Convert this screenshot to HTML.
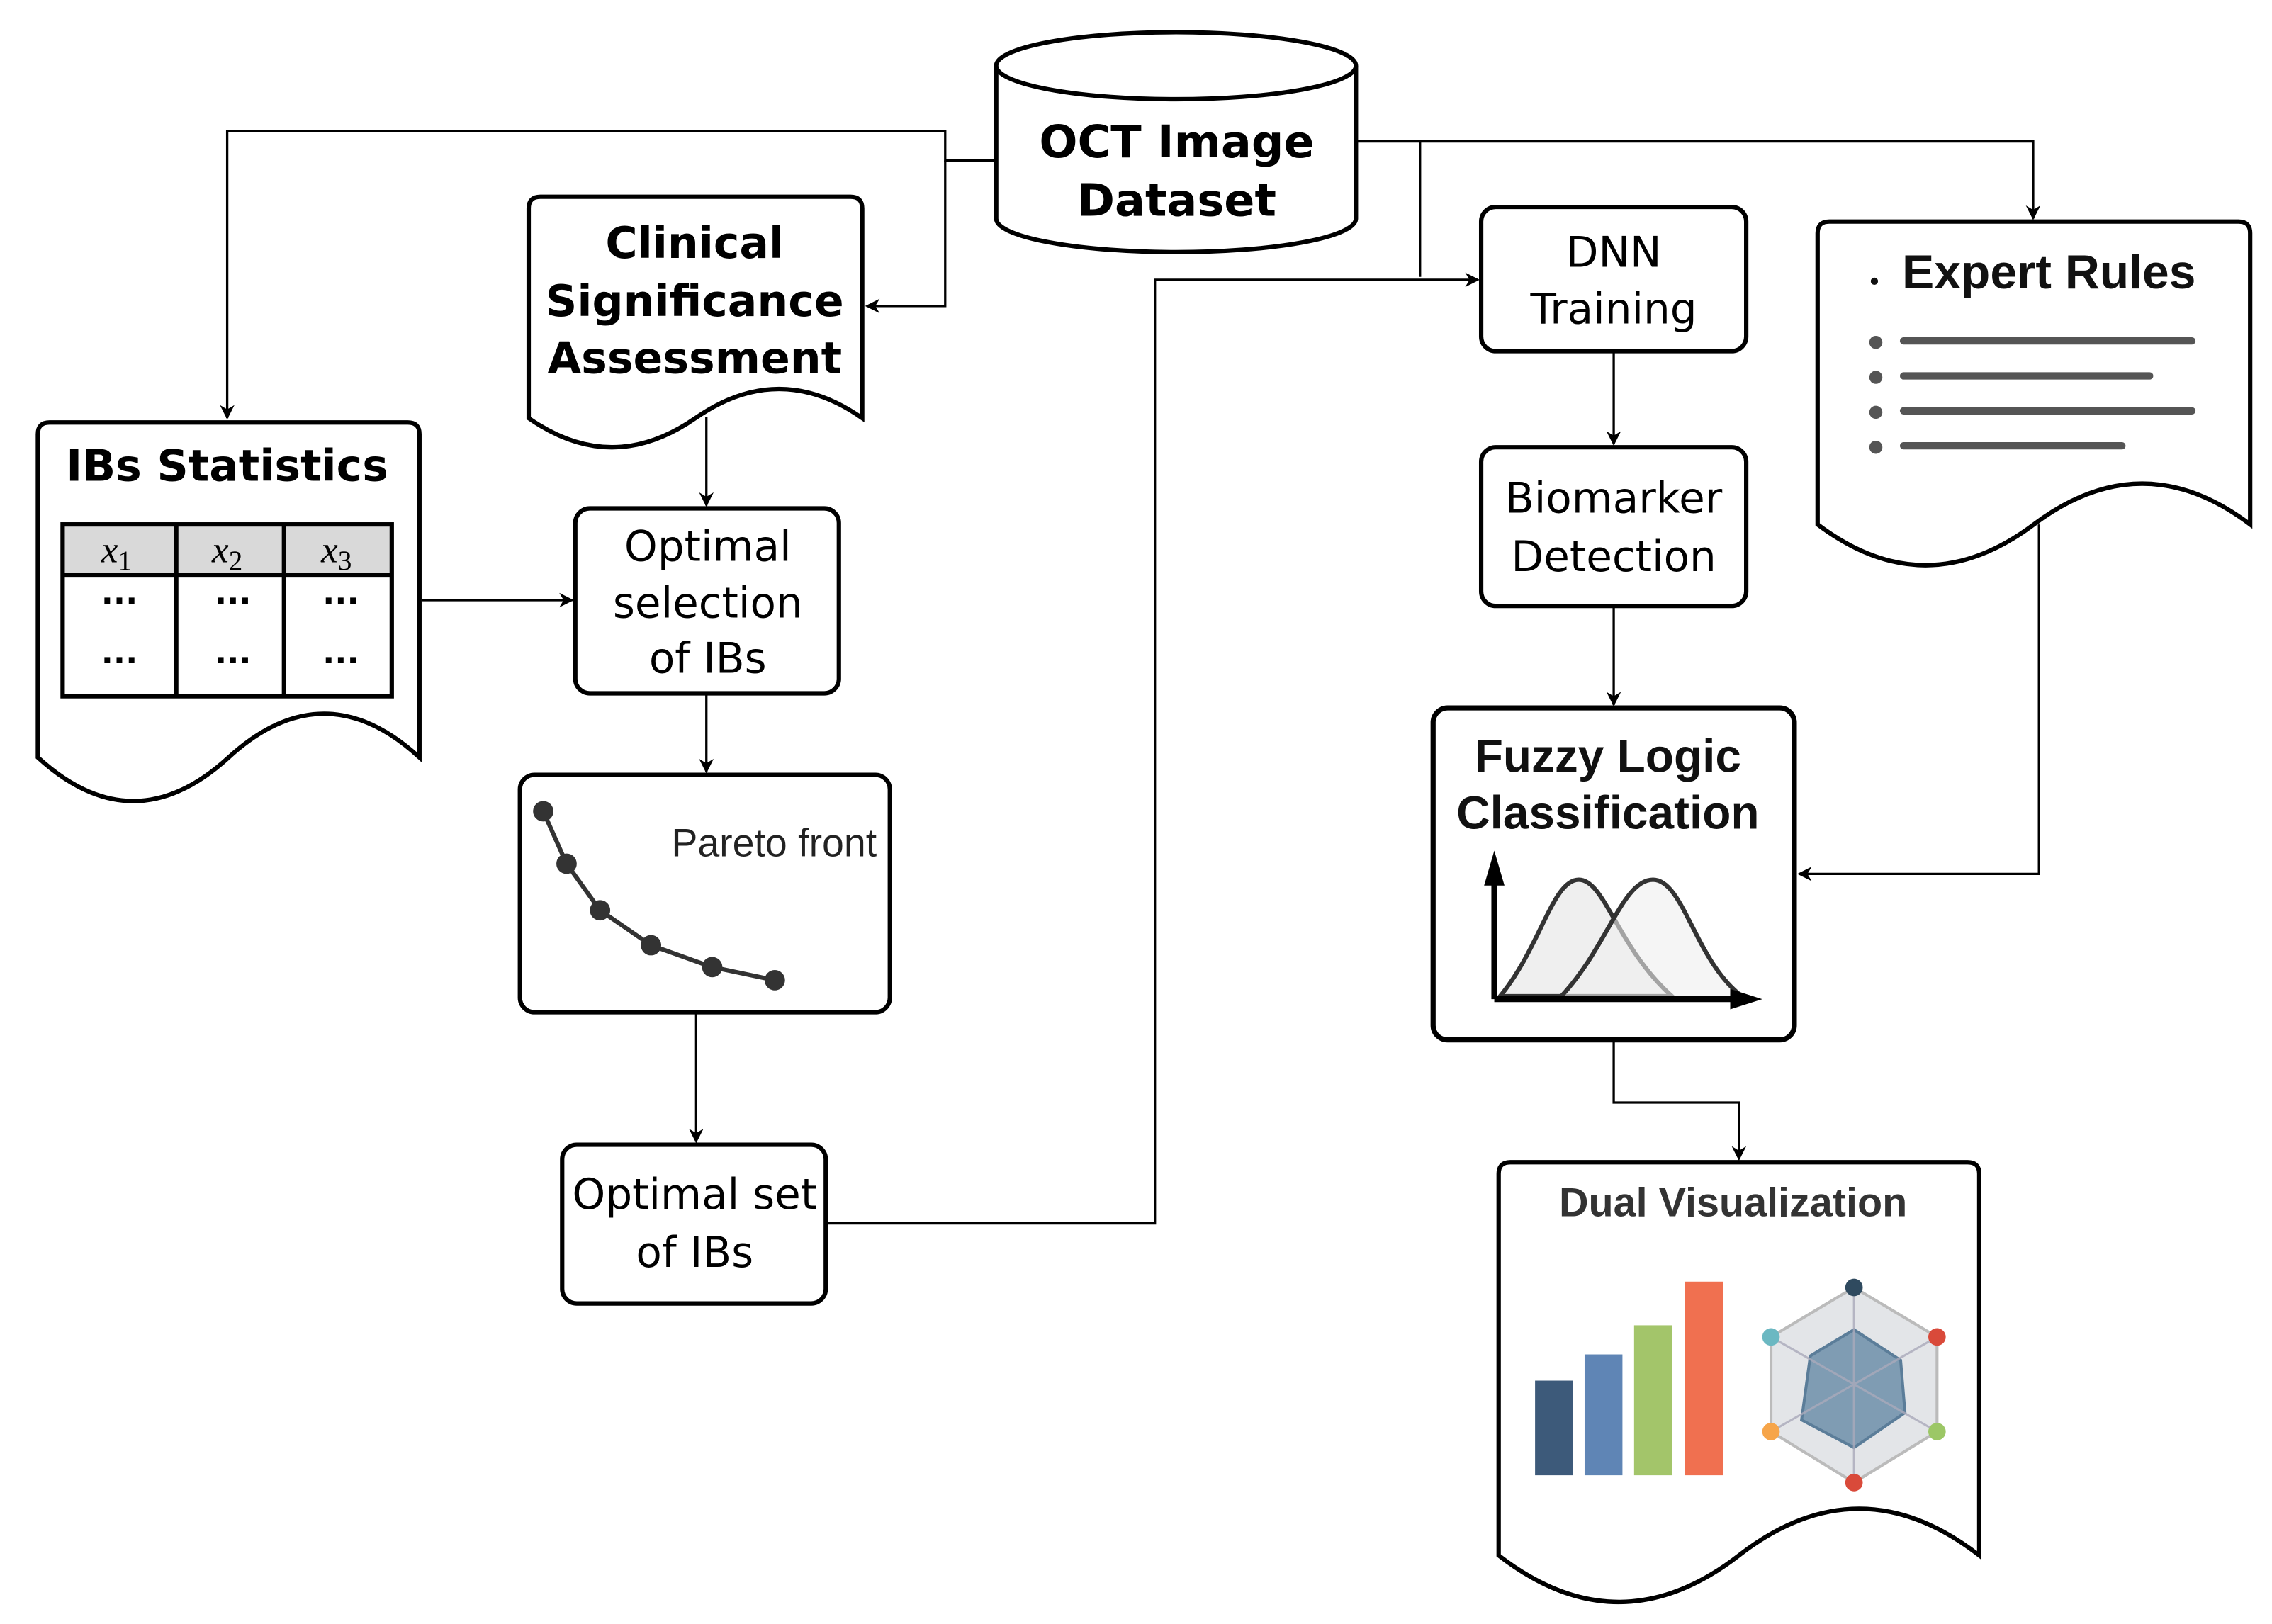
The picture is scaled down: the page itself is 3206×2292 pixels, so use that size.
<!DOCTYPE html>
<html><head><meta charset="utf-8"><style>html,body{margin:0;padding:0;background:#fff}svg{display:block}</style></head>
<body>
<svg width="3206" height="2292" viewBox="0 0 1560 1115" xmlns="http://www.w3.org/2000/svg" font-family="'DejaVu Sans','Liberation Sans',sans-serif">
<defs>
<marker id="ar" markerWidth="10" markerHeight="10" refX="9" refY="5" orient="auto" markerUnits="userSpaceOnUse">
<path d="M0,0 L10,5 L0,10 L3,5 Z" fill="#000"/></marker>
</defs>
<rect width="1560" height="1115" fill="#fff"/>
<g fill="none" stroke="#000" stroke-width="1.6">
<!-- connectors -->
<path d="M684,110 H649 V90 H156 V287" marker-end="url(#ar)"/>
<path d="M649,110 V210 H595" marker-end="url(#ar)"/>
<path d="M931,97 H1396 V150" marker-end="url(#ar)"/>
<path d="M975,97 V190"/>
<path d="M567,840 H793 V192 H1015" marker-end="url(#ar)"/>
<path d="M290,412 H393" marker-end="url(#ar)"/>
<path d="M485,286 V347" marker-end="url(#ar)"/>
<path d="M485,477 V530" marker-end="url(#ar)"/>
<path d="M478,696 V784" marker-end="url(#ar)"/>
<path d="M1108,242 V305" marker-end="url(#ar)"/>
<path d="M1108,417 V484" marker-end="url(#ar)"/>
<path d="M1400,360 V600 H1235" marker-end="url(#ar)"/>
<path d="M1108,714 V757 H1194 V796" marker-end="url(#ar)"/>
</g>
<!-- cylinder -->
<g stroke="#000" stroke-width="3" fill="#fff">
<path d="M684,45 V150 A123.5,23 0 0 0 931,150 V45"/>
<ellipse cx="807.5" cy="45" rx="123.5" ry="23"/>
</g>
<g font-weight="bold" font-size="31" text-anchor="middle" fill="#000">
<text x="808" y="108">OCT Image</text>
<text x="808" y="148">Dataset</text>
</g>
<!-- documents -->
<g stroke="#000" stroke-width="3" fill="#fff">
<path d="M26,520 V298 Q26,290 34,290 H280 Q288,290 288,298 V520 Q222.5,460 157,520 Q91.5,580 26,520 Z"/>
<path d="M363,287 V143 Q363,135 371,135 H584 Q592,135 592,143 V287 Q535,247 477.5,287 Q420,327 363,287 Z"/>
<path d="M1248,360 V160 Q1248,152 1256,152 H1537 Q1545,152 1545,160 V360 Q1471,304 1396.5,360 Q1322,416 1248,360 Z"/>
<path d="M1029,1068 V806 Q1029,798 1037,798 H1351 Q1359,798 1359,806 V1068 Q1276.5,1004 1194,1068 Q1111.5,1132 1029,1068 Z"/>
</g>
<g font-weight="bold" fill="#000" text-anchor="middle">
<text x="156" y="330" font-size="30">IBs Statistics</text>
<text x="477" y="177" font-size="30">Clinical</text>
<text x="477" y="217" font-size="30">Significance</text>
<text x="477" y="256" font-size="30">Assessment</text>
</g>
<!-- table -->
<rect x="43" y="360" width="226" height="35" fill="#d9d9d9"/>
<g stroke="#000" stroke-width="3" fill="none">
<rect x="43" y="360" width="226" height="118"/>
<path d="M43,395 H269 M121,360 V478 M195,360 V478"/>
</g>
<g font-family="'Liberation Serif',serif" font-style="italic" font-size="26" fill="#000" text-anchor="middle">
<text x="80" y="386">x<tspan font-style="normal" font-size="19" dy="5">1</tspan></text>
<text x="156" y="386">x<tspan font-style="normal" font-size="19" dy="5">2</tspan></text>
<text x="231" y="386">x<tspan font-style="normal" font-size="19" dy="5">3</tspan></text>
</g>
<g font-size="22" font-weight="bold" text-anchor="middle" fill="#000">
<text x="82" y="420">···</text><text x="160" y="420">···</text><text x="234" y="420">···</text>
<text x="82" y="461">···</text><text x="160" y="461">···</text><text x="234" y="461">···</text>
</g>
<!-- boxes -->
<g stroke="#000" stroke-width="3" fill="#fff">
<rect x="395" y="349" width="181" height="127" rx="10"/>
<rect x="357" y="532" width="254" height="163" rx="10"/>
<rect x="386" y="786" width="181" height="109" rx="10"/>
<rect x="1017" y="142" width="182" height="99" rx="10"/>
<rect x="1017" y="307" width="182" height="109" rx="10"/>
<rect x="984" y="486" width="248" height="228" rx="10" stroke-width="3.5"/>
</g>
<g font-size="29" fill="#000" text-anchor="middle">
<text x="486" y="385">Optimal</text>
<text x="486" y="424">selection</text>
<text x="486" y="462">of IBs</text>
<text x="477" y="830">Optimal set</text>
<text x="477" y="870">of IBs</text>
<text x="1108" y="183">DNN</text>
<text x="1108" y="222">Training</text>
<text x="1108" y="352">Biomarker</text>
<text x="1108" y="392">Detection</text>
</g>
<!-- pareto -->
<text x="602" y="588" font-family="'Liberation Sans',sans-serif" font-size="27" fill="#222" text-anchor="end">Pareto front</text>
<polyline points="373,557 389,593 412,625 447,649 489,664 532,673" fill="none" stroke="#333" stroke-width="3"/>
<g fill="#333"><circle cx="373" cy="557" r="7"/><circle cx="389" cy="593" r="7"/><circle cx="412" cy="625" r="7"/><circle cx="447" cy="649" r="7"/><circle cx="489" cy="664" r="7"/><circle cx="532" cy="673" r="7"/></g>
<!-- fuzzy -->
<g font-family="'Liberation Sans',sans-serif" font-weight="bold" font-size="32" fill="#111" text-anchor="middle">
<text x="1104" y="530">Fuzzy Logic</text>
<text x="1104" y="569">Classification</text>
</g>
<path d="M1030,684 C1058,650 1066,604 1084,604 C1102,604 1110,650 1148,684 Z" fill="#efefef" stroke="#333" stroke-width="3"/>
<path d="M1072,684 C1104,650 1114,604 1135,604 C1156,604 1164,660 1196,684" fill="#efefef" fill-opacity="0.6" stroke="#333" stroke-width="3"/>
<path d="M1026,686 V600 M1026,686 H1195" stroke="#000" stroke-width="4" fill="none"/>
<path d="M1019,608 L1026,584 L1033,608 Z M1188,679 L1210,686 L1188,693 Z" fill="#000"/>
<!-- expert rules -->
<circle cx="1287" cy="193" r="2.5" fill="#111"/>
<text x="1306" y="198" font-family="'Liberation Sans',sans-serif" font-weight="bold" font-size="33" fill="#111">Expert Rules</text>
<g fill="#555"><circle cx="1288" cy="235" r="4.5"/><circle cx="1288" cy="259" r="4.5"/><circle cx="1288" cy="283" r="4.5"/><circle cx="1288" cy="307" r="4.5"/></g>
<g stroke="#555" stroke-width="5" stroke-linecap="round">
<path d="M1307,234 H1505 M1307,258 H1476 M1307,282 H1505 M1307,306 H1457"/>
</g>
<!-- dual visualization -->
<text x="1190" y="835" font-family="'Liberation Sans',sans-serif" font-weight="bold" font-size="28" fill="#333" text-anchor="middle">Dual Visualization</text>
<rect x="1054" y="948" width="26" height="65" fill="#3d5a7a"/>
<rect x="1088" y="930" width="26" height="83" fill="#5f85b5"/>
<rect x="1122" y="910" width="26" height="103" fill="#a3c56a"/>
<rect x="1157" y="880" width="26" height="133" fill="#f07050"/>
<polygon points="1273,884 1330,918 1330,983 1273,1018 1216,983 1216,918" fill="#e3e5e8" stroke="#bbb" stroke-width="2"/>
<polygon points="1273,913 1305,934 1308,970 1273,994 1237,975 1243,931" fill="#7f9cb3" stroke="#5b7d99" stroke-width="2"/>
<g stroke="#aab" stroke-width="1.5" opacity="0.8"><path d="M1273,884 V1018 M1216,918 L1330,983 M1330,918 L1216,983"/></g>
<circle cx="1273" cy="884" r="6" fill="#2f4a5f"/>
<circle cx="1330" cy="918" r="6" fill="#d94a3a"/>
<circle cx="1330" cy="983" r="6" fill="#9cc766"/>
<circle cx="1273" cy="1018" r="6" fill="#d94a3a"/>
<circle cx="1216" cy="983" r="6" fill="#f6a54a"/>
<circle cx="1216" cy="918" r="6" fill="#6bb8c2"/>
</svg>
</body></html>
